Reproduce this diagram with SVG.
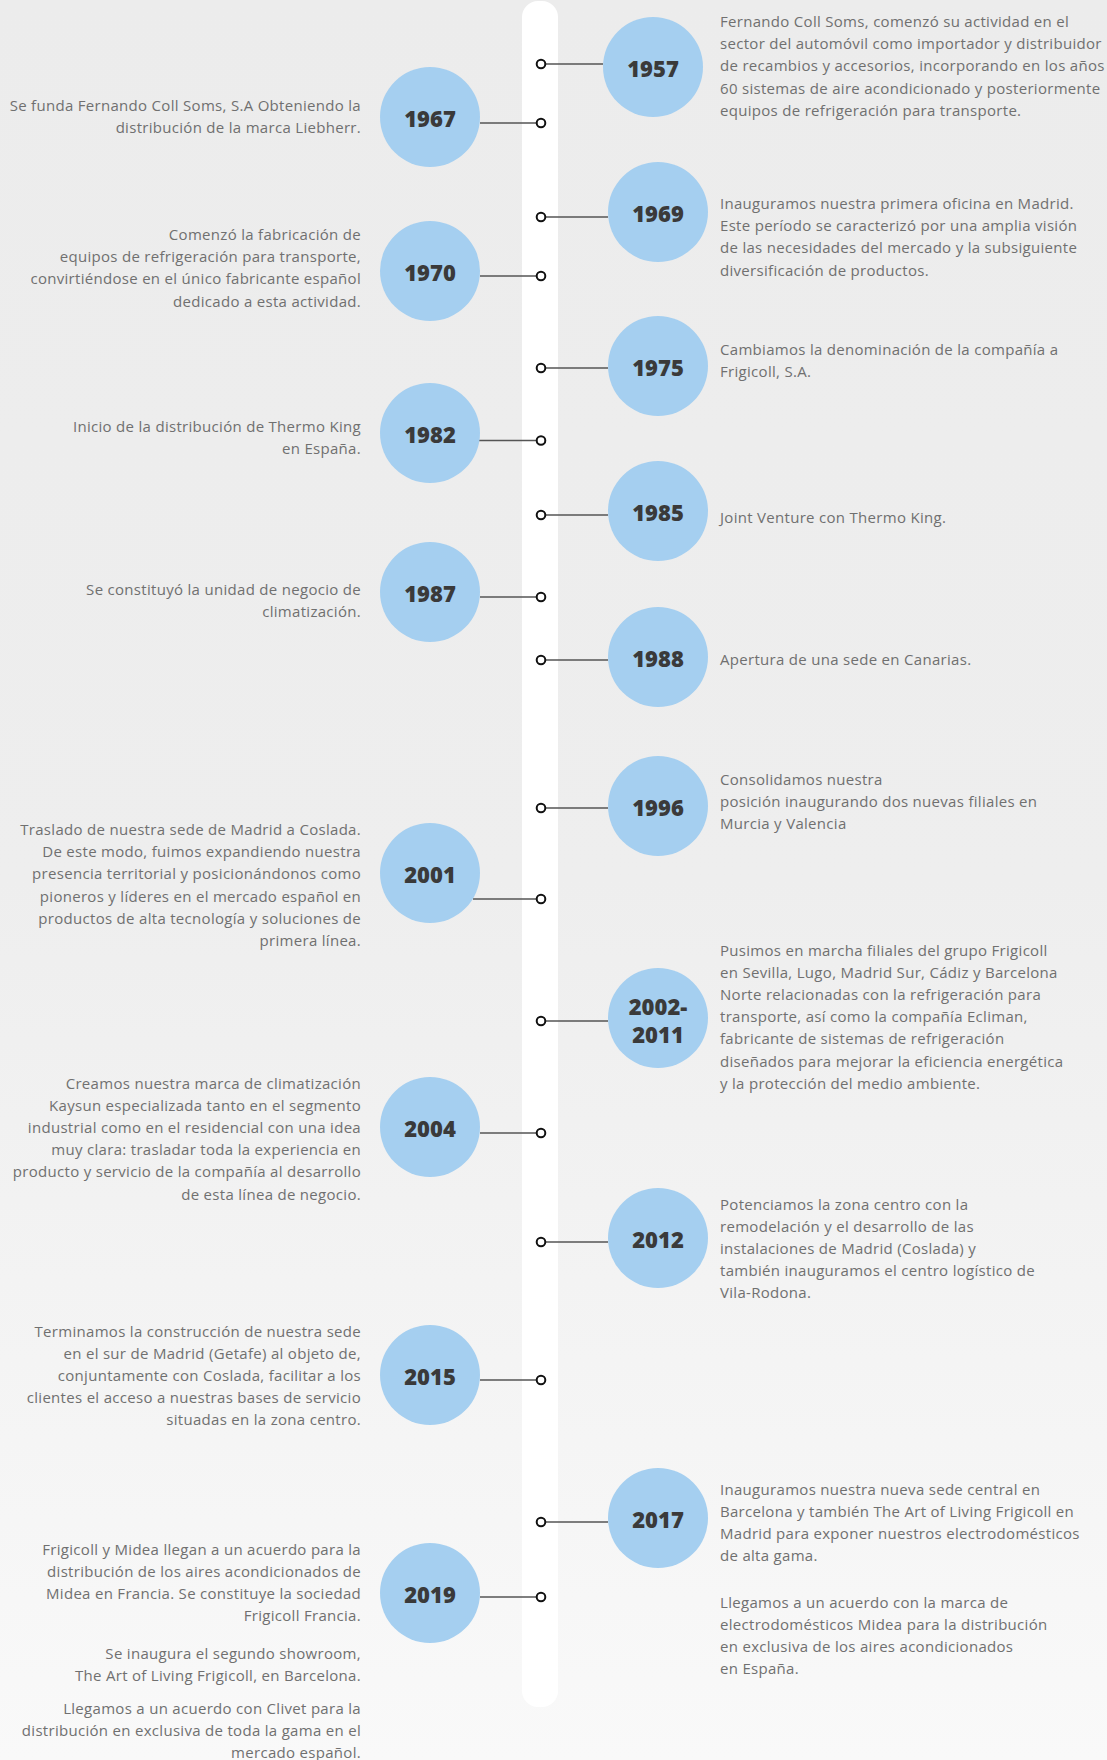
<svg xmlns="http://www.w3.org/2000/svg" width="1107" height="1760" viewBox="0 0 1107 1760">
<defs>
<linearGradient id="bg" x1="0" y1="0" x2="0" y2="1">
<stop offset="0" stop-color="#ececec"/>
<stop offset="0.5" stop-color="#eeeeee"/>
<stop offset="1" stop-color="#f9f9f9"/>
</linearGradient>
<style>
.yc{fill:#a5cff0}
.yt{font-family:"Open Sans","Liberation Sans",sans-serif;font-weight:800;font-size:22px;fill:#3a3a3a;text-anchor:middle}
.tr{font-family:"Open Sans","Liberation Sans",sans-serif;font-size:15px;letter-spacing:0.3px;fill:#707070}
.tl{font-family:"Open Sans","Liberation Sans",sans-serif;font-size:15px;letter-spacing:0.3px;fill:#707070;text-anchor:end}
.cn{stroke:#555;stroke-width:1.6;fill:none}
.dot{fill:#fff;stroke:#111;stroke-width:2}
</style>
</defs>
<rect x="0" y="0" width="1107" height="1760" fill="url(#bg)"/>
<rect id="strip" x="522" y="1" width="36" height="1706" rx="16" fill="#ffffff"/>
<g id="connectors">
<line class="cn" x1="541" y1="64" x2="603" y2="64"/>
<line class="cn" x1="480" y1="123" x2="541" y2="123"/>
<line class="cn" x1="541" y1="217" x2="608" y2="217"/>
<line class="cn" x1="480" y1="276" x2="541" y2="276"/>
<line class="cn" x1="541" y1="368" x2="608" y2="368"/>
<line class="cn" x1="479" y1="440.5" x2="541" y2="440.5"/>
<line class="cn" x1="541" y1="515" x2="608" y2="515"/>
<line class="cn" x1="480" y1="597" x2="541" y2="597"/>
<line class="cn" x1="541" y1="660" x2="608" y2="660"/>
<line class="cn" x1="541" y1="808" x2="608" y2="808"/>
<line class="cn" x1="473" y1="899" x2="541" y2="899"/>
<line class="cn" x1="541" y1="1021" x2="608" y2="1021"/>
<line class="cn" x1="480" y1="1133" x2="541" y2="1133"/>
<line class="cn" x1="541" y1="1242" x2="608" y2="1242"/>
<line class="cn" x1="480" y1="1380" x2="541" y2="1380"/>
<line class="cn" x1="541" y1="1522" x2="608" y2="1522"/>
<line class="cn" x1="480" y1="1597" x2="541" y2="1597"/>
<circle class="dot" cx="541" cy="64" r="4.3"/>
<circle class="dot" cx="541" cy="123" r="4.3"/>
<circle class="dot" cx="541" cy="217" r="4.3"/>
<circle class="dot" cx="541" cy="276" r="4.3"/>
<circle class="dot" cx="541" cy="368" r="4.3"/>
<circle class="dot" cx="541" cy="440.5" r="4.3"/>
<circle class="dot" cx="541" cy="515" r="4.3"/>
<circle class="dot" cx="541" cy="597" r="4.3"/>
<circle class="dot" cx="541" cy="660" r="4.3"/>
<circle class="dot" cx="541" cy="808" r="4.3"/>
<circle class="dot" cx="541" cy="899" r="4.3"/>
<circle class="dot" cx="541" cy="1021" r="4.3"/>
<circle class="dot" cx="541" cy="1133" r="4.3"/>
<circle class="dot" cx="541" cy="1242" r="4.3"/>
<circle class="dot" cx="541" cy="1380" r="4.3"/>
<circle class="dot" cx="541" cy="1522" r="4.3"/>
<circle class="dot" cx="541" cy="1597" r="4.3"/>
</g>
<g id="e1957">
<circle class="yc" cx="653" cy="67" r="50"/>
<text class="yt" x="653" y="77">1957</text>
<text class="tr" y="27"><tspan x="720">Fernando Coll Soms, comenzó su actividad en el</tspan><tspan x="720" dy="22.2">sector del automóvil como importador y distribuidor</tspan><tspan x="720" dy="22.2">de recambios y accesorios, incorporando en los años</tspan><tspan x="720" dy="22.2">60 sistemas de aire acondicionado y posteriormente</tspan><tspan x="720" dy="22.2">equipos de refrigeración para transporte.</tspan></text>
</g>
<g id="e1967">
<circle class="yc" cx="430" cy="117" r="50"/>
<text class="yt" x="430" y="127">1967</text>
<text class="tl" y="111"><tspan x="361">Se funda Fernando Coll Soms, S.A Obteniendo la</tspan><tspan x="361" dy="22.2">distribución de la marca Liebherr.</tspan></text>
</g>
<g id="e1969">
<circle class="yc" cx="658" cy="212" r="50"/>
<text class="yt" x="658" y="222">1969</text>
<text class="tr" y="209"><tspan x="720">Inauguramos nuestra primera oficina en Madrid.</tspan><tspan x="720" dy="22.2">Este período se caracterizó por una amplia visión</tspan><tspan x="720" dy="22.2">de las necesidades del mercado y la subsiguiente</tspan><tspan x="720" dy="22.2">diversificación de productos.</tspan></text>
</g>
<g id="e1970">
<circle class="yc" cx="430" cy="271" r="50"/>
<text class="yt" x="430" y="281">1970</text>
<text class="tl" y="240"><tspan x="361">Comenzó la fabricación de</tspan><tspan x="361" dy="22.2">equipos de refrigeración para transporte,</tspan><tspan x="361" dy="22.2">convirtiéndose en el único fabricante español</tspan><tspan x="361" dy="22.2">dedicado a esta actividad.</tspan></text>
</g>
<g id="e1975">
<circle class="yc" cx="658" cy="366" r="50"/>
<text class="yt" x="658" y="376">1975</text>
<text class="tr" y="355"><tspan x="720">Cambiamos la denominación de la compañía a</tspan><tspan x="720" dy="22.2">Frigicoll, S.A.</tspan></text>
</g>
<g id="e1982">
<circle class="yc" cx="430" cy="433" r="50"/>
<text class="yt" x="430" y="443">1982</text>
<text class="tl" y="432"><tspan x="361">Inicio de la distribución de Thermo King</tspan><tspan x="361" dy="22.2">en España.</tspan></text>
</g>
<g id="e1985">
<circle class="yc" cx="658" cy="511" r="50"/>
<text class="yt" x="658" y="521">1985</text>
<text class="tr" x="720" y="523">Joint Venture con Thermo King.</text>
</g>
<g id="e1987">
<circle class="yc" cx="430" cy="592" r="50"/>
<text class="yt" x="430" y="602">1987</text>
<text class="tl" y="594.5"><tspan x="361">Se constituyó la unidad de negocio de</tspan><tspan x="361" dy="22.2">climatización.</tspan></text>
</g>
<g id="e1988">
<circle class="yc" cx="658" cy="657" r="50"/>
<text class="yt" x="658" y="667">1988</text>
<text class="tr" x="720" y="665">Apertura de una sede en Canarias.</text>
</g>
<g id="e1996">
<circle class="yc" cx="658" cy="806" r="50"/>
<text class="yt" x="658" y="816">1996</text>
<text class="tr" y="785"><tspan x="720">Consolidamos nuestra</tspan><tspan x="720" dy="22.2">posición inaugurando dos nuevas filiales en</tspan><tspan x="720" dy="22.2">Murcia y Valencia</tspan></text>
</g>
<g id="e2001">
<circle class="yc" cx="430" cy="873" r="50"/>
<text class="yt" x="430" y="883">2001</text>
<text class="tl" y="835"><tspan x="361">Traslado de nuestra sede de Madrid a Coslada.</tspan><tspan x="361" dy="22.2">De este modo, fuimos expandiendo nuestra</tspan><tspan x="361" dy="22.2">presencia territorial y posicionándonos como</tspan><tspan x="361" dy="22.2">pioneros y líderes en el mercado español en</tspan><tspan x="361" dy="22.2">productos de alta tecnología y soluciones de</tspan><tspan x="361" dy="22.2">primera línea.</tspan></text>
</g>
<g id="e2002">
<circle class="yc" cx="658" cy="1018" r="50"/>
<text class="yt" x="658" y="1015">2002-</text>
<text class="yt" x="658" y="1043">2011</text>
<text class="tr" y="956"><tspan x="720">Pusimos en marcha filiales del grupo Frigicoll</tspan><tspan x="720" dy="22.1">en Sevilla, Lugo, Madrid Sur, Cádiz y Barcelona</tspan><tspan x="720" dy="22.1">Norte relacionadas con la refrigeración para</tspan><tspan x="720" dy="22.1">transporte, así como la compañía Ecliman,</tspan><tspan x="720" dy="22.1">fabricante de sistemas de refrigeración</tspan><tspan x="720" dy="22.1">diseñados para mejorar la eficiencia energética</tspan><tspan x="720" dy="22.1">y la protección del medio ambiente.</tspan></text>
</g>
<g id="e2004">
<circle class="yc" cx="430" cy="1127" r="50"/>
<text class="yt" x="430" y="1137">2004</text>
<text class="tl" y="1089"><tspan x="361">Creamos nuestra marca de climatización</tspan><tspan x="361" dy="22.1">Kaysun especializada tanto en el segmento</tspan><tspan x="361" dy="22.1">industrial como en el residencial con una idea</tspan><tspan x="361" dy="22.1">muy clara: trasladar toda la experiencia en</tspan><tspan x="361" dy="22.1">producto y servicio de la compañía al desarrollo</tspan><tspan x="361" dy="22.1">de esta línea de negocio.</tspan></text>
</g>
<g id="e2012">
<circle class="yc" cx="658" cy="1238" r="50"/>
<text class="yt" x="658" y="1248">2012</text>
<text class="tr" y="1210"><tspan x="720">Potenciamos la zona centro con la</tspan><tspan x="720" dy="22.1">remodelación y el desarrollo de las</tspan><tspan x="720" dy="22.1">instalaciones de Madrid (Coslada) y</tspan><tspan x="720" dy="22.1">también inauguramos el centro logístico de</tspan><tspan x="720" dy="22.1">Vila-Rodona.</tspan></text>
</g>
<g id="e2015">
<circle class="yc" cx="430" cy="1375" r="50"/>
<text class="yt" x="430" y="1385">2015</text>
<text class="tl" y="1337"><tspan x="361">Terminamos la construcción de nuestra sede</tspan><tspan x="361" dy="22.1">en el sur de Madrid (Getafe) al objeto de,</tspan><tspan x="361" dy="22.1">conjuntamente con Coslada, facilitar a los</tspan><tspan x="361" dy="22.1">clientes el acceso a nuestras bases de servicio</tspan><tspan x="361" dy="22.1">situadas en la zona centro.</tspan></text>
</g>
<g id="e2017">
<circle class="yc" cx="658" cy="1518" r="50"/>
<text class="yt" x="658" y="1528">2017</text>
<text class="tr" y="1494.5"><tspan x="720">Inauguramos nuestra nueva sede central en</tspan><tspan x="720" dy="22.1">Barcelona y también The Art of Living Frigicoll en</tspan><tspan x="720" dy="22.1">Madrid para exponer nuestros electrodomésticos</tspan><tspan x="720" dy="22.1">de alta gama.</tspan></text>
<text class="tr" y="1608"><tspan x="720">Llegamos a un acuerdo con la marca de</tspan><tspan x="720" dy="22.1">electrodomésticos Midea para la distribución</tspan><tspan x="720" dy="22.1">en exclusiva de los aires acondicionados</tspan><tspan x="720" dy="22.1">en España.</tspan></text>
</g>
<g id="e2019">
<circle class="yc" cx="430" cy="1593" r="50"/>
<text class="yt" x="430" y="1603">2019</text>
<text class="tl" y="1555"><tspan x="361">Frigicoll y Midea llegan a un acuerdo para la</tspan><tspan x="361" dy="22.1">distribución de los aires acondicionados de</tspan><tspan x="361" dy="22.1">Midea en Francia. Se constituye la sociedad</tspan><tspan x="361" dy="22.1">Frigicoll Francia.</tspan></text>
<text class="tl" y="1659"><tspan x="361">Se inaugura el segundo showroom,</tspan><tspan x="361" dy="22.1">The Art of Living Frigicoll, en Barcelona.</tspan></text>
<text class="tl" y="1714"><tspan x="361">Llegamos a un acuerdo con Clivet para la</tspan><tspan x="361" dy="22">distribución en exclusiva de toda la gama en el</tspan><tspan x="361" dy="22">mercado español.</tspan></text>
</g>
</svg>
